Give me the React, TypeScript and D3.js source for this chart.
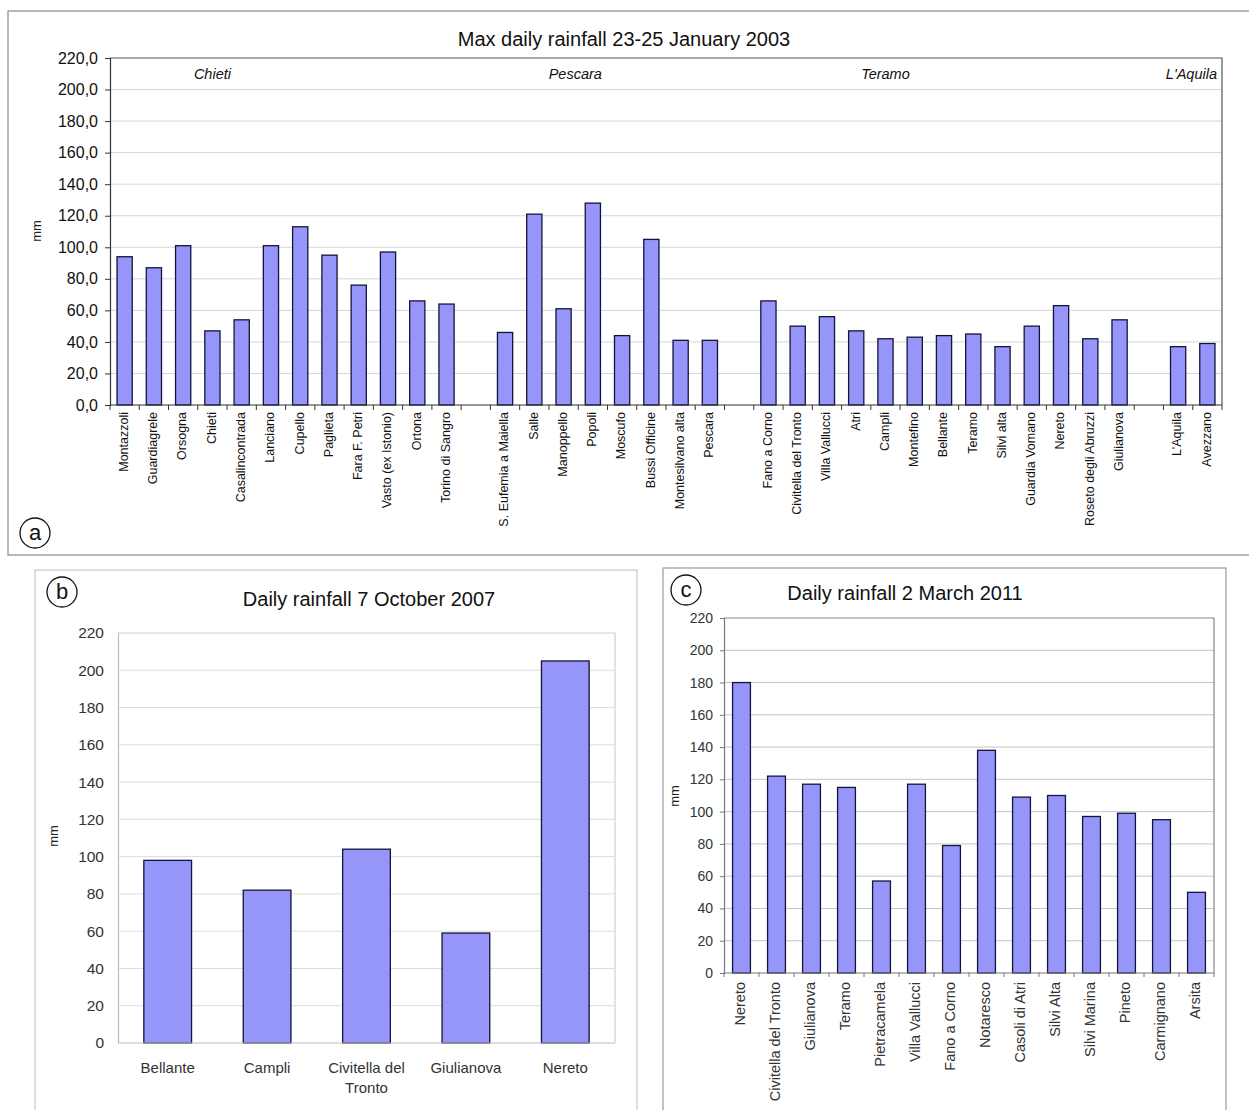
import { useEffect, useRef } from "react"
import * as d3 from "d3"

// (a) max daily rainfall 23-25 January 2003, by province
const chietiStations = ["Montazzoli", "Guardiagrele", "Orsogna", "Chieti", "Casalincontrada", "Lanciano", "Cupello", "Paglieta", "Fara F. Petri", "Vasto (ex Istonio)", "Ortona", "Torino di Sangro"]
const chietiRain = [94, 87, 101, 47, 54, 101, 113, 95, 76, 97, 66, 64]
const pescaraStations = ["S. Eufemia a Maiella", "Salle", "Manoppello", "Popoli", "Moscufo", "Bussi Officine", "Montesilvano alta", "Pescara"]
const pescaraRain = [46, 121, 61, 128, 44, 105, 41, 41]
const teramoStations = ["Fano a Corno", "Civitella del Tronto", "Villa Vallucci", "Atri", "Campli", "Montefino", "Bellante", "Teramo", "Silvi alta", "Guardia Vomano", "Nereto", "Roseto degli Abruzzi", "Giulianova"]
const teramoRain = [66, 50, 56, 47, 42, 43, 44, 45, 37, 50, 63, 42, 54]
const aquilaStations = ["L'Aquila", "Avezzano"]
const aquilaRain = [37, 39]
const provinces = ["Chieti", "Pescara", "Teramo", "L'Aquila"]

// (b) daily rainfall 7 October 2007
const stationsB = ["Bellante", "Campli", "Civitella del Tronto", "Giulianova", "Nereto"]
const rainB = [98, 82, 104, 59, 205]

// (c) daily rainfall 2 March 2011
const stationsC = ["Nereto", "Civitella del Tronto", "Giulianova", "Teramo", "Pietracamela", "Villa Vallucci", "Fano a Corno", "Notaresco", "Casoli di Atri", "Silvi Alta", "Silvi Marina", "Pineto", "Carmignano", "Arsita"]
const rainC = [180, 122, 117, 115, 57, 117, 79, 138, 109, 110, 97, 99, 95, 50]

const yTicks = [0, 20, 40, 60, 80, 100, 120, 140, 160, 180, 200, 220]

const FONT = "'Liberation Sans', Arial, Helvetica, sans-serif"
const BAR_FILL = "#9696fa"
const BAR_STROKE = "#14143a"

type Row = { key: string, label: string, value: number | null }

// slots for panel a, with an empty category between provinces
const rowsA: Row[] = []
;[
    [chietiStations, chietiRain],
    [pescaraStations, pescaraRain],
    [teramoStations, teramoRain],
    [aquilaStations, aquilaRain],
].forEach(([names, vals]: any, gi) => {
    if (gi > 0) rowsA.push({ key: `gap${gi}`, label: "", value: null })
    names.forEach((n: string, i: number) => rowsA.push({ key: `${gi}-${n}`, label: n, value: vals[i] }))
})
const toRows = (names: string[], vals: number[]): Row[] => names.map((n, i) => ({ key: n, label: n, value: vals[i] }))

function wrapLabel(label: string, maxChars: number) {
    if (label.length <= maxChars) return [label]
    const cut = label.lastIndexOf(" ", maxChars)
    return [label.slice(0, cut), label.slice(cut + 1)]
}

function drawPanel(svg: any, p: any) {
    const rows: Row[] = p.rows
    const x = d3.scaleBand().domain(rows.map(r => r.key)).range([p.plot.x0, p.plot.x1])
    const y = d3.scaleLinear().domain([0, 220]).range([p.plot.y1, p.plot.y0])
    const g = svg.append("g").style("font-family", FONT)

    // outer frame
    g.append("rect")
        .attr("x", p.box.x).attr("y", p.box.y)
        .attr("width", p.box.w).attr("height", p.box.h)
        .attr("fill", "#fff").attr("stroke", p.boxStroke).attr("stroke-width", 1.2)

    // badge
    g.append("circle").attr("cx", p.badge.x).attr("cy", p.badge.y).attr("r", 15)
        .attr("fill", "#fff").attr("stroke", "#111").attr("stroke-width", 1.3)
    g.append("text").attr("x", p.badge.x).attr("y", p.badge.y + 1)
        .attr("text-anchor", "middle").attr("dominant-baseline", "middle")
        .style("font-size", "22px").attr("fill", "#111").text(p.badge.t)

    // title
    g.append("text").attr("x", p.title.x).attr("y", p.title.y)
        .attr("text-anchor", "middle").style("font-size", "20px").attr("fill", "#111")
        .text(p.title.t)

    // gridlines
    g.append("g").selectAll("line").data(yTicks.filter(t => t > 0 && t < 220)).join("line")
        .attr("x1", p.plot.x0).attr("x2", p.plot.x1)
        .attr("y1", (d: number) => y(d)).attr("y2", (d: number) => y(d))
        .attr("stroke", p.gridColor).attr("stroke-width", 1)

    // plot frame top + right
    g.append("path")
        .attr("d", `M${p.plot.x0},${y(220)}H${p.plot.x1}V${y(0)}`)
        .attr("fill", "none").attr("stroke", p.frameColor).attr("stroke-width", 1.2)

    // bars
    const bw = x.bandwidth() * p.barRatio
    g.append("g").selectAll("rect").data(rows.filter(r => r.value != null)).join("rect")
        .attr("x", (d: Row) => x(d.key)! + (x.bandwidth() - bw) / 2)
        .attr("y", (d: Row) => y(d.value!))
        .attr("width", bw)
        .attr("height", (d: Row) => y(0) - y(d.value!))
        .attr("fill", BAR_FILL).attr("stroke", BAR_STROKE).attr("stroke-width", 1.3)

    // y axis
    const yAxis = g.append("g").attr("transform", `translate(${p.plot.x0},0)`)
        .call(d3.axisLeft(y).tickValues(yTicks).tickSize(p.yTickLen).tickPadding(p.yPad).tickFormat(p.fmt))
    yAxis.select(".domain").attr("stroke", p.axisColor).attr("stroke-width", 1.2)
    yAxis.selectAll(".tick line").attr("stroke", p.axisColor)
    yAxis.selectAll(".tick text").style("font-size", p.yFont).style("font-family", FONT).attr("fill", p.tickColor)

    // x axis + boundary ticks
    g.append("line").attr("x1", p.plot.x0).attr("x2", p.plot.x1)
        .attr("y1", y(0)).attr("y2", y(0)).attr("stroke", p.axisColor).attr("stroke-width", 1.2)
    if (p.xTickLen > 0) {
        g.append("g").selectAll("line").data(rows.map(r => x(r.key)!).concat([p.plot.x1])).join("line")
            .attr("x1", (d: number) => d).attr("x2", (d: number) => d)
            .attr("y1", y(0)).attr("y2", y(0) + p.xTickLen)
            .attr("stroke", p.axisColor)
    }

    // category labels
    const labels = g.append("g").selectAll("text").data(rows.filter(r => r.label)).join("text")
        .style("font-size", p.xFont).attr("fill", p.tickColor)
    if (p.rotate) {
        labels.attr("text-anchor", "end").attr("dominant-baseline", "middle")
            .attr("transform", (d: Row) => `translate(${x(d.key)! + x.bandwidth() / 2},${y(0) + p.xPad}) rotate(-90)`)
            .text((d: Row) => d.label)
    } else {
        labels.attr("text-anchor", "middle")
            .attr("x", (d: Row) => x(d.key)! + x.bandwidth() / 2)
            .attr("y", y(0) + p.xPad)
            .each(function (this: any, d: Row) {
                wrapLabel(d.label, 14).forEach((line, i) => {
                    d3.select(this).append("tspan")
                        .attr("x", x(d.key)! + x.bandwidth() / 2)
                        .attr("dy", i ? "1.35em" : 0)
                        .text(line)
                })
            })
    }

    // y title
    g.append("text")
        .attr("transform", `translate(${p.mm.x},${p.mm.y}) rotate(-90)`)
        .attr("text-anchor", "middle").attr("dominant-baseline", "middle")
        .style("font-size", "13px").attr("fill", "#222").text("mm")

    return { x, y, g }
}

export default function App() {
    const svgRef = useRef<SVGSVGElement>(null)

    useEffect(() => {
        const svg = d3.select(svgRef.current)
        svg.selectAll("*").remove()
        svg.append("rect").attr("width", 1249).attr("height", 1110).attr("fill", "#fff")

        // panel a
        const a = drawPanel(svg, {
            rows: rowsA,
            box: { x: 8, y: 11, w: 1250, h: 544 },
            boxStroke: "#8a8a8a",
            badge: { x: 35, y: 533, t: "a" },
            title: { x: 624, y: 46, t: "Max daily rainfall 23-25 January 2003" },
            plot: { x0: 110, x1: 1222, y0: 58, y1: 405 },
            gridColor: "#d6d6d6", frameColor: "#555", axisColor: "#333", tickColor: "#111",
            barRatio: 0.52,
            yTickLen: 5, yPad: 7, yFont: "16px",
            fmt: (v: number) => v.toFixed(1).replace(".", ","),
            xTickLen: 5, xPad: 7, xFont: "12.5px", rotate: true,
            mm: { x: 38, y: 231 },
        })
        // province names above their station groups
        const groupAt = [3.5, 15.9, 26.5]
        const step = a.x.step()
        a.g.append("g").selectAll("text").data(provinces).join("text")
            .attr("x", (_: string, i: number) => i < 3 ? 110 + groupAt[i] * step : 1217)
            .attr("y", 79)
            .attr("text-anchor", (_: string, i: number) => i < 3 ? "middle" : "end")
            .style("font-size", "14.5px").style("font-style", "italic").attr("fill", "#111")
            .text((d: string) => d)

        // panel b
        drawPanel(svg, {
            rows: toRows(stationsB, rainB),
            box: { x: 35, y: 570, w: 602, h: 560 },
            boxStroke: "#c8c8c8",
            badge: { x: 62, y: 592, t: "b" },
            title: { x: 369, y: 606, t: "Daily rainfall 7 October 2007" },
            plot: { x0: 118, x1: 615, y0: 633, y1: 1043 },
            gridColor: "#dcdcdc", frameColor: "#cfcfcf", axisColor: "#bdbdbd", tickColor: "#333",
            barRatio: 0.48,
            yTickLen: 0, yPad: 14, yFont: "15.5px",
            fmt: (v: number) => `${v}`,
            xTickLen: 0, xPad: 30, xFont: "15px", rotate: false,
            mm: { x: 55, y: 836 },
        })

        // panel c
        drawPanel(svg, {
            rows: toRows(stationsC, rainC),
            box: { x: 663, y: 568, w: 563, h: 560 },
            boxStroke: "#9a9a9a",
            badge: { x: 686, y: 590, t: "c" },
            title: { x: 905, y: 600, t: "Daily rainfall 2 March 2011" },
            plot: { x0: 724, x1: 1214, y0: 618, y1: 973 },
            gridColor: "#c4c4c4", frameColor: "#888", axisColor: "#777", tickColor: "#333",
            barRatio: 0.51,
            yTickLen: 4, yPad: 7, yFont: "14px",
            fmt: (v: number) => `${v}`,
            xTickLen: 4, xPad: 9, xFont: "14.5px", rotate: true,
            mm: { x: 676, y: 796 },
        })
    }, [])

    return (
        <svg ref={svgRef} width={1249} height={1110}
            style={{ position: "absolute", left: 0, top: 0, display: "block" }} />
    )
}
